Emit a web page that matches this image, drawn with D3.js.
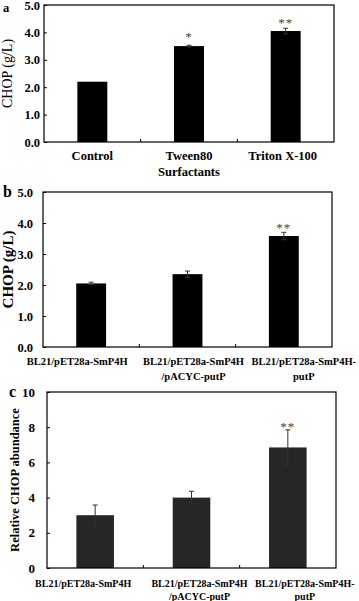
<!DOCTYPE html>
<html><head><meta charset="utf-8">
<script src="https://cdn.jsdelivr.net/npm/d3@7"></script>
<style>body{margin:0;background:#fff}svg{display:block}</style>
</head><body>
<svg id="c" width="359" height="601"></svg>
<script>
// ---- data ----
const catsA = [["Control"], ["Tween80", "Surfactants"], ["Triton X-100"]];
const valsA = [2.2, 3.5, 4.05];
const errA = [0, 0.03, 0.1];
const sigA = ["", "*", "**"];
const ticksA = [0, 1, 2, 3, 4, 5];

const catsB = [["BL21/pET28a-SmP4H"], ["BL21/pET28a-SmP4H", "/pACYC-putP"], ["BL21/pET28a-SmP4H-", "putP"]];
const valsB = [2.05, 2.35, 3.58];
const errB = [0.04, 0.1, 0.12];
const sigB = ["", "", "**"];
const ticksB = [0, 1, 2, 3, 4, 5];

const catsC = [["BL21/pET28a-SmP4H"], ["BL21/pET28a-SmP4H", "/pACYC-putP"], ["BL21/pET28a-SmP4H-", "putP"]];
const valsC = [3.0, 4.0, 6.85];
const errC = [0.58, 0.36, 1.0];
const sigC = ["", "", "**"];
const ticksC = [0, 2, 4, 6, 8, 10];

const svg = d3.select("#c");
const serif = "'Liberation Serif','Times New Roman',serif";

function panel(o) {
  const g = svg.append("g");
  const x = d3.scaleBand().domain(d3.range(o.vals.length)).range([o.x0, o.x1]).padding(0);
  const y = d3.scaleLinear().domain([0, o.ymax]).range([o.yb, o.yt]);
  const bw = x.bandwidth() * o.barFrac;

  // bars
  g.selectAll("rect.bar").data(o.vals).join("rect")
    .attr("x", (d, i) => x(i) + (x.bandwidth() - bw) / 2)
    .attr("y", d => y(d)).attr("width", bw).attr("height", d => y(0) - y(d))
    .attr("fill", o.barColor);

  // error bars
  o.vals.forEach((v, i) => {
    const e = o.err[i]; if (!e) return;
    const cx = x(i) + x.bandwidth() / 2;
    g.append("line").attr("x1", cx).attr("x2", cx).attr("y1", y(v + e)).attr("y2", y(v - e))
      .attr("stroke", "#333").attr("stroke-width", 1);
    [v + e, v - e].forEach(t => g.append("line").attr("x1", cx - 2.5).attr("x2", cx + 2.5)
      .attr("y1", y(t)).attr("y2", y(t)).attr("stroke", "#333").attr("stroke-width", 1));
  });
  // significance
  o.vals.forEach((v, i) => {
    if (!o.sig[i]) return;
    const cx = x(i) + x.bandwidth() / 2;
    g.append("text").attr("x", cx).attr("y", y(v + o.err[i]) - o.sigGap[i])
      .attr("text-anchor", "middle").attr("font-family", serif).attr("font-size", 13)
      .attr("fill", "#444").attr("letter-spacing", 1).text(o.sig[i]);
  });

  // box
  g.append("rect").attr("x", o.x0).attr("y", o.yt).attr("width", o.x1 - o.x0).attr("height", o.yb - o.yt)
    .attr("fill", "none").attr("stroke", "#000").attr("stroke-width", 1.2);

  // y axis (ticks inside)
  const ya = d3.axisLeft(y).tickValues(o.ticks).tickSize(-3).tickPadding(o.tickPad)
    .tickFormat(o.fmt);
  const yg = g.append("g").attr("transform", `translate(${o.x0},0)`).call(ya);
  yg.select(".domain").remove();
  yg.selectAll("line").attr("stroke", "#000");
  yg.selectAll("text").attr("font-family", serif).attr("font-weight", "bold")
    .attr("font-size", o.tickFs).attr("fill", "#000");

  // x separators (inside)
  const seps = d3.range(1, o.vals.length).map(i => x(i));
  g.selectAll("line.sep").data(seps).join("line")
    .attr("x1", d => d).attr("x2", d => d).attr("y1", o.yb).attr("y2", o.yb - 3)
    .attr("stroke", "#000");

  // category labels
  o.cats.forEach((lines, i) => {
    const cx = x(i) + x.bandwidth() / 2 + o.catDx[i];
    const t = g.append("text").attr("text-anchor", "middle").attr("font-family", serif)
      .attr("font-weight", "bold").attr("font-size", o.catFs).attr("fill", "#000");
    lines.forEach((s, k) => t.append("tspan").attr("x", cx).attr("y", o.catY + k * o.catDy).text(s));
  });

  // y label
  g.append("text").attr("transform", `translate(${o.ylx},${(o.yt + o.yb) / 2}) rotate(-90)`)
    .attr("text-anchor", "middle").attr("font-family", serif).attr("font-size", o.ylFs)
    .attr("font-weight", o.ylW).attr("fill", "#000").text(o.ylabel);

  // panel letter
  g.append("text").attr("x", o.lx).attr("y", o.ly).attr("font-family", serif)
    .attr("font-weight", "bold").attr("font-size", o.lFs).attr("fill", "#000").text(o.letter);
}

panel({ vals: valsA, err: errA, sig: sigA, cats: catsA, ticks: ticksA, ymax: 5,
  x0: 44, x1: 334, yt: 5, yb: 142, barFrac: 0.31, barColor: "#000", sigGap: [0, 4, 1],
  tickPad: 4, tickFs: 12.5, fmt: d3.format(".1f"), catFs: 12.5, catY: 160, catDy: 16, catDx: [0, 0, -3],
  ylabel: "CHOP (g/L)", ylx: 12, ylFs: 14, ylW: "normal", letter: "a", lx: 3, ly: 11.5, lFs: 12.5 });

panel({ vals: valsB, err: errB, sig: sigB, cats: catsB, ticks: ticksB, ymax: 5,
  x0: 43, x1: 332, yt: 192, yb: 347, barFrac: 0.31, barColor: "#000", sigGap: [0, 0, 0],
  tickPad: 10, tickFs: 12.5, fmt: d3.format(".1f"), catFs: 10.5, catY: 365, catDy: 15, catDx: [-14, 6, 20],
  ylabel: "CHOP (g/L)", ylx: 13, ylFs: 15, ylW: "bold", letter: "b", lx: 3, ly: 197, lFs: 16 });

panel({ vals: valsC, err: errC, sig: sigC, cats: catsC, ticks: ticksC, ymax: 10,
  x0: 47, x1: 336, yt: 392, yb: 568, barFrac: 0.39, barColor: "#262626", sigGap: [0, 0, -1],
  tickPad: 12, tickFs: 13, fmt: d3.format("d"), catFs: 10, catY: 587, catDy: 13, catDx: [-12, 8, 17],
  ylabel: "Relative CHOP abundance", ylx: 19, ylFs: 12.5, ylW: "bold", letter: "c", lx: 9, ly: 397, lFs: 16 });
</script>
</body></html>
